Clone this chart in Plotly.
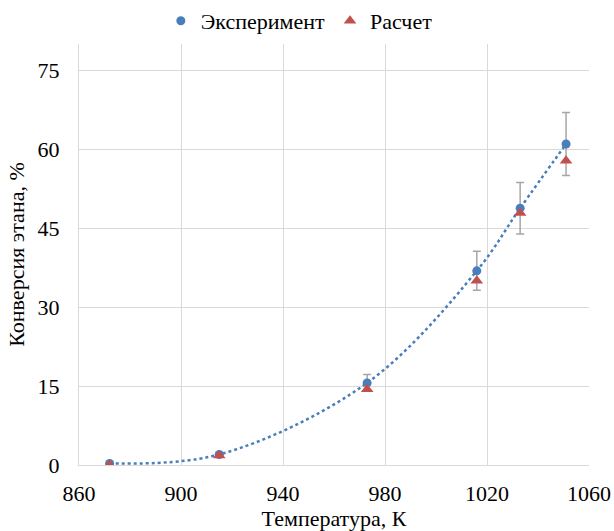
import plotly.graph_objects as go

temp = [872, 915, 973, 1016, 1033, 1051]
exp_conv = [0.3, 2.0, 15.6, 36.9, 48.8, 61.0]
exp_err = [0.05, 0.2, 1.6, 3.7, 4.9, 6.0]
calc_conv = [0.0, 1.8, 14.4, 35.0, 47.9, 57.8]

x_ticks = [860, 900, 940, 980, 1020, 1060]
y_ticks = [0, 15, 30, 45, 60, 75]

BLUE = "#4A7EBB"
RED = "#C0504D"
FONT = "'Times New Roman', 'Liberation Serif', serif"

fig = go.Figure()
fig.add_trace(go.Scatter(
    x=temp, y=exp_conv, mode="lines", showlegend=False,
    line=dict(color=BLUE, width=2.5, dash="dot", shape="spline", smoothing=1.0),
    hoverinfo="skip"))
fig.add_trace(go.Scatter(
    x=temp, y=exp_conv, mode="markers", name="Эксперимент",
    marker=dict(color=BLUE, size=9, symbol="circle"),
    error_y=dict(type="data", array=exp_err, visible=True,
                 color="#A6A6A6", thickness=1.5, width=4)))
fig.add_trace(go.Scatter(
    x=temp, y=calc_conv, mode="markers", name="Расчет",
    marker=dict(color=RED, size=11, symbol="triangle-up")))

fig.update_layout(
    width=614, height=531,
    margin=dict(l=79, r=25, t=44, b=66, autoexpand=False),
    paper_bgcolor="white", plot_bgcolor="white",
    font=dict(family=FONT, size=22, color="#000000"),
    legend=dict(orientation="h", x=0.432, xanchor="center", y=1.0,
                yref="container", yanchor="top",
                font=dict(family=FONT, size=22),
                itemwidth=30, tracegroupgap=0),
    xaxis=dict(range=[860, 1060], tickvals=x_ticks, showgrid=True,
               gridcolor="#D9D9D9", gridwidth=1, zeroline=False,
               showline=True, linecolor="#D9D9D9", ticks="",
               ticklabelstandoff=9, automargin=False,
               title=dict(text="Температура, К", font=dict(family=FONT, size=22), standoff=6)),
    yaxis=dict(range=[0, 80], tickvals=y_ticks, showgrid=True,
               gridcolor="#D9D9D9", gridwidth=1, zeroline=False,
               showline=True, linecolor="#D9D9D9", ticks="",
               ticklabelstandoff=14, automargin=False,
               title=dict(text="Конверсия этана, %", font=dict(family=FONT, size=22), standoff=6)),
)

fig.write_html("out.html")
